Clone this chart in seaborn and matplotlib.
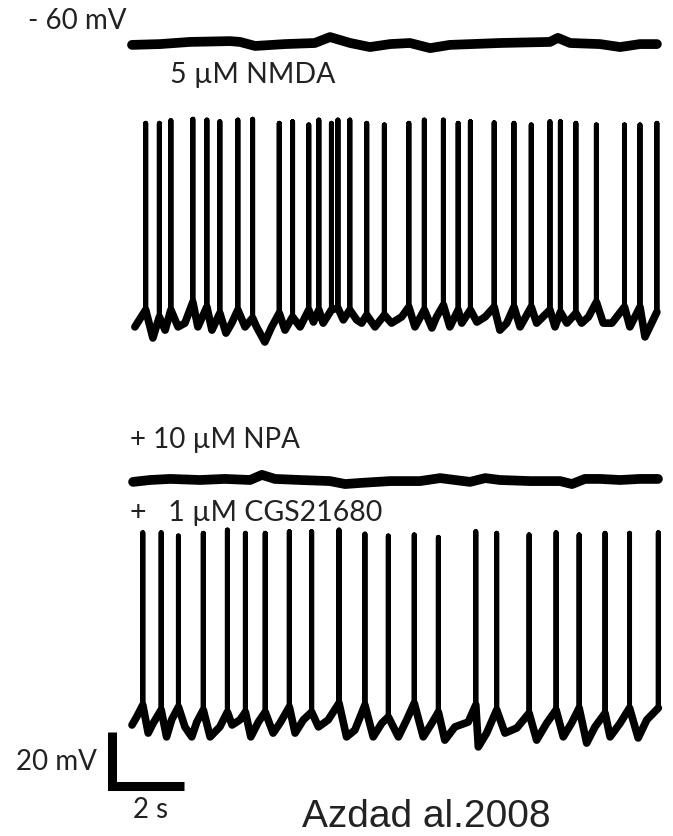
import numpy as np
import pandas as pd
import matplotlib
matplotlib.use("Agg")
import matplotlib.pyplot as plt
import seaborn as sns

# ---------------- data (time in s, membrane potential in mV) ----------------
# Trace 1: control, -60 mV, silent
T1_T = [0.00, 0.78, 1.61, 2.72, 3.00, 3.42, 4.25, 5.08, 5.50, 6.06, 6.61, 7.17,
        7.72, 8.28, 8.83, 10.22, 11.61, 11.83, 12.17, 13.00, 13.56, 14.11, 14.58]
T1_V = [-60.7, -60.4, -59.6, -59.3, -59.6, -61.1, -60.4, -60.0, -57.8, -60.0, -61.5, -60.4,
        -60.0, -61.9, -60.7, -60.0, -59.6, -58.1, -60.0, -60.4, -61.5, -60.4, -60.4]

# Trace 2: 5 uM NMDA -- spikes
T2_SPIKE_T = [0.38, 0.76, 1.08, 1.69, 2.08, 2.44, 2.94, 3.35, 4.09, 4.46, 4.91, 5.19,
              5.54, 5.72, 6.05, 6.52, 7.01, 7.69, 8.12, 8.65, 9.06, 9.40, 10.06, 10.61,
              11.09, 11.61, 11.90, 12.33, 12.90, 13.68, 14.11, 14.58]
T2_SPIKE_FOOT = [-54.4, -57.0, -54.4, -51.5, -53.3, -55.6, -54.4, -57.4, -55.6, -57.0, -54.4, -54.4,
                 -54.4, -53.7, -54.4, -56.3, -56.3, -53.3, -54.4, -52.6, -54.4, -54.4, -53.3, -53.3,
                 -53.3, -54.4, -55.2, -55.6, -51.5, -53.3, -53.3, -55.2]
T2_SPIKE_PEAK = [14.7, 14.7, 15.7, 16.2, 15.9, 15.3, 15.9, 16.2, 14.7, 15.3, 14.1, 15.9,
                 14.7, 15.9, 15.9, 14.7, 14.1, 14.7, 15.9, 15.9, 14.7, 15.3, 14.9, 14.7,
                 14.1, 15.3, 15.3, 14.7, 14.1, 14.1, 14.1, 14.7]
# Trace 2: sub-threshold membrane potential between spikes
T2_BASE_T = [0.08, 0.58, 0.92, 1.28, 1.47, 1.83, 2.22, 2.61, 2.77, 3.14, 3.46, 3.69, 3.88,
             4.25, 4.67, 5.04, 5.31, 5.87, 6.24, 6.38, 6.75, 7.21, 7.49, 7.86, 8.33, 8.46,
             8.83, 9.16, 9.58, 9.81, 10.22, 10.41, 10.78, 11.24, 11.75, 12.08, 12.49, 12.68,
             13.09, 13.33, 13.83, 14.25]
T2_BASE_V = [-60.7, -64.8, -61.9, -60.7, -59.3, -60.7, -61.9, -63.0, -59.3, -60.7, -60.7, -66.3, -60.7,
             -61.9, -60.7, -58.9, -59.3, -58.1, -58.1, -59.3, -60.7, -59.3, -57.0, -60.7, -61.1, -57.0,
             -60.7, -59.3, -58.9, -57.0, -61.9, -59.3, -60.7, -59.3, -60.7, -59.3, -59.3, -57.0,
             -59.3, -59.3, -60.7, -64.4]

# Trace 3: + 10 uM NPA, silent
T3_T = [0.03, 0.50, 1.06, 1.89, 2.58, 3.28, 3.61, 3.97, 4.67, 5.50, 5.92, 6.33, 7.17, 8.00,
        8.56, 8.97, 9.39, 9.81, 10.22, 11.06, 11.89, 12.22, 12.58, 13.00, 13.56, 14.11, 14.61]
T3_V = [-60.7, -60.0, -59.6, -60.0, -59.6, -60.0, -58.1, -59.6, -60.0, -60.4, -61.5, -61.1, -60.4, -60.4,
        -59.3, -60.0, -60.7, -59.3, -60.0, -60.4, -60.4, -61.5, -59.6, -59.6, -60.0, -59.6, -59.6]

# Trace 4: + 1 uM CGS21680 -- spikes
T4_SPIKE_T = [0.30, 0.81, 1.29, 1.98, 2.65, 3.15, 3.70, 4.37, 4.99, 5.75, 6.47, 7.12,
              7.84, 8.51, 9.55, 10.13, 11.03, 11.78, 12.42, 13.14, 13.82, 14.62]
T4_SPIKE_FOOT = [-52.6, -54.4, -53.3, -54.4, -55.2, -55.2, -55.2, -53.3, -55.2, -51.9, -52.6, -57.0,
                 -51.9, -55.2, -52.6, -54.4, -55.6, -54.4, -53.7, -55.6, -53.7, -53.7]
T4_SPIKE_PEAK = [11.2, 11.2, 10.0, 11.0, 12.2, 11.0, 11.0, 11.6, 11.6, 12.2, 10.7, 10.0,
                 10.4, 9.5, 11.6, 11.0, 10.4, 11.2, 10.4, 11.0, 11.0, 11.2]
T4_BASE_T = [0.00, 0.13, 0.45, 0.59, 0.96, 1.10, 1.47, 1.66, 1.80, 2.17, 2.44, 2.78, 3.00,
             3.30, 3.51, 3.92, 4.11, 4.53, 4.76, 5.18, 5.45, 5.96, 6.19, 6.70, 6.94, 7.40,
             7.63, 8.09, 8.33, 8.69, 8.97, 9.34, 9.62, 9.85, 10.36, 10.69, 11.24, 11.52,
             11.98, 12.21, 12.63, 12.86, 13.28, 13.56, 14.06, 14.30]
T4_BASE_V = [-60.0, -57.0, -63.0, -59.3, -64.4, -58.1, -60.7, -64.4, -58.9, -64.4, -60.7, -60.0, -58.1,
             -64.4, -58.9, -63.0, -59.3, -63.0, -58.1, -60.7, -58.1, -64.4, -61.9, -64.4, -59.3, -64.4,
             -58.1, -64.4, -59.3, -65.6, -60.7, -58.9, -68.1, -63.0, -63.0, -61.1, -65.6, -59.3,
             -64.4, -59.3, -66.7, -60.7, -64.4, -59.3, -64.8, -58.1]

LABELS = ["- 60 mV", "5 \u00b5M NMDA", "+ 10 \u00b5M NPA", "+   1 \u00b5M CGS21680"]
SCALE_MV = 20
SCALE_S = 2
SCALE_LABELS = ["20 mV", "2 s"]
CREDIT = "Azdad al.2008"

# ---------------- layout ----------------
W, H = 673, 836
PX_PER_S = 36.0
PX_PER_MV = 2.7
X0_PX = 132.0                      # pixel column of t = 0
REF_PX = [43, 325, 480, 725]       # pixel row of -60 mV for each trace


def spiking(base_t, base_v, sp_t, sp_foot, sp_peak, with_peaks=True):
    rows = [(t, 0, v) for t, v in zip(base_t, base_v)]
    for t, f, p in zip(sp_t, sp_foot, sp_peak):
        if with_peaks:
            rows += [(t, 1, f), (t, 2, p), (t, 3, f)]
        else:
            rows += [(t, 1, f)]
    rows.sort(key=lambda r: (r[0], r[1]))
    return pd.DataFrame({"t": [r[0] for r in rows], "V": [r[2] for r in rows]})


layers = [
    (0, pd.DataFrame({"t": T1_T, "V": T1_V}), 7.0),
    (1, spiking(T2_BASE_T, T2_BASE_V, T2_SPIKE_T, T2_SPIKE_FOOT, T2_SPIKE_PEAK, False), 5.5),
    (1, spiking(T2_BASE_T, T2_BASE_V, T2_SPIKE_T, T2_SPIKE_FOOT, T2_SPIKE_PEAK), 3.6),
    (2, pd.DataFrame({"t": T3_T, "V": T3_V}), 7.0),
    (3, spiking(T4_BASE_T, T4_BASE_V, T4_SPIKE_T, T4_SPIKE_FOOT, T4_SPIKE_PEAK, False), 5.5),
    (3, spiking(T4_BASE_T, T4_BASE_V, T4_SPIKE_T, T4_SPIKE_FOOT, T4_SPIKE_PEAK), 3.6),
]

sns.set_theme(style="white")
plt.rcParams["font.family"] = ["Lato", "DejaVu Sans"]

fig = plt.figure(figsize=(W / 100, H / 100), dpi=100)
ax = fig.add_axes([0, 0, 1, 1])
ax.set_xlim(-X0_PX / PX_PER_S, (W - X0_PX) / PX_PER_S)
ax.set_ylim(-H / PX_PER_MV, 0)
ax.axis("off")

for k, df, lw in layers:
    d = df.copy()
    d["y"] = (d["V"] + 60) - REF_PX[k] / PX_PER_MV
    sns.lineplot(data=d, x="t", y="y", sort=False, estimator=None, ax=ax,
                 color="black", linewidth=lw, solid_joinstyle="round",
                 solid_capstyle="round")

# scale bar
cx = (112.5 - X0_PX) / PX_PER_S
cy = -785.5 / PX_PER_MV
ax.plot([cx, cx, cx + SCALE_S], [cy + SCALE_MV, cy, cy], color="black", lw=6.5,
        solid_capstyle="butt", solid_joinstyle="miter")

txt = "#222222"
def ftext(x, y, s, size, ha="left", family=None):
    kw = dict(fontsize=size, color=txt, ha=ha, va="center")
    if family:
        kw["family"] = family
    fig.text(x / W, 1 - y / H, s, **kw)

ftext(126, 21, LABELS[0], 20, ha="right")
ftext(170, 75, LABELS[1], 20.5)
ftext(130, 440, LABELS[2], 20)
ftext(130, 513, LABELS[3], 20.5)
ftext(97, 762, SCALE_LABELS[0], 20, ha="right")
ftext(151, 810, SCALE_LABELS[1], 20, ha="center")
ftext(426, 817, CREDIT, 28, ha="center", family=["Liberation Sans", "DejaVu Sans"])

fig.savefig("out.png", dpi=100)
